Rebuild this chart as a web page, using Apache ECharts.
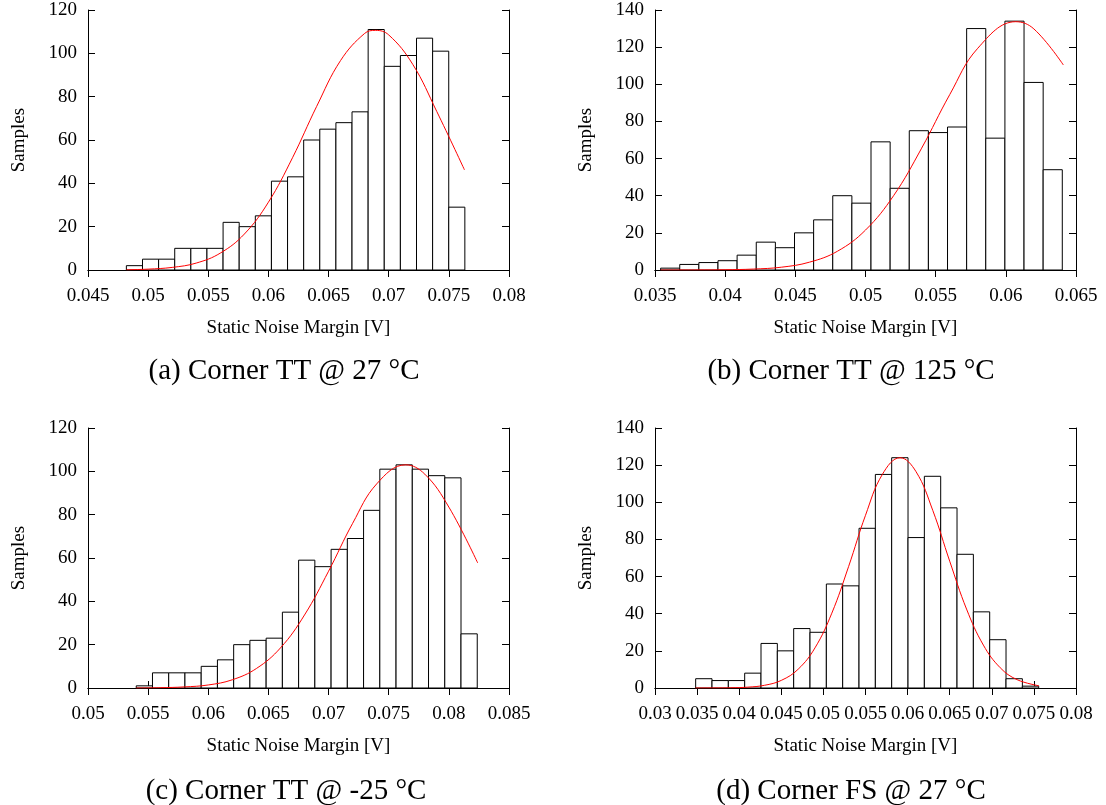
<!DOCTYPE html>
<html>
<head>
<meta charset="utf-8">
<script src="https://cdn.jsdelivr.net/npm/echarts@6/dist/echarts.min.js"></script>
<style>html,body{margin:0;padding:0;background:#fff}#c{width:1106px;height:805px}</style>
</head>
<body>
<div id="c"></div>
<script>
// ---------------- data ----------------
// Histogram counts (21 bins per panel)
const countsA = [2,5,5,10,10,10,22,20,25,41,43,60,65,68,73,111,94,99,107,101,29];
const countsB = [1,3,4,5,8,15,12,20,27,40,36,69,44,75,74,77,130,71,134,101,54];
const countsC = [1,7,7,7,10,13,20,22,23,35,59,56,64,69,82,101,103,101,98,97,25];
const countsD = [5,4,4,8,24,20,32,30,56,55,86,115,124,81,114,97,72,41,26,5,1];
// first bin edge and bin width [V]
const binA = {start: 0.04819, width: 0.00134};
const binB = {start: 0.03540, width: 0.001363};
const binC = {start: 0.05401, width: 0.00135};
const binD = {start: 0.03483, width: 0.00194};
// fitted normal curves [V, samples]
const fitA = [[0.0482,0.1],[0.050,0.4],[0.052,1.2],[0.054,3.2],[0.056,7.8],[0.058,16.6],[0.060,31.3],[0.062,51.8],[0.064,75.4],[0.066,96.7],[0.068,109.2],[0.0689,110.6],[0.070,108.5],[0.072,94.9],[0.074,73.1],[0.0763,46.2]];
const fitB = [[0.0354,0.0],[0.038,0.03],[0.040,0.14],[0.042,0.5],[0.044,1.5],[0.046,4.2],[0.048,10.1],[0.050,21.5],[0.052,40.0],[0.054,65.6],[0.056,94.4],[0.058,119.4],[0.0607,133.7],[0.062,129.8],[0.0641,110.4]];
const fitC = [[0.054,0.0],[0.056,0.14],[0.058,0.5],[0.060,1.4],[0.062,3.8],[0.064,9.0],[0.066,18.5],[0.068,33.7],[0.070,53.9],[0.072,76.0],[0.074,94.2],[0.0764,103],[0.078,98.7],[0.080,83.5],[0.0824,57.7]];
const fitD = [[0.0348,0.0],[0.037,0.03],[0.039,0.12],[0.041,0.45],[0.043,1.45],[0.045,4.1],[0.047,10.1],[0.049,21.6],[0.051,40.3],[0.053,65.5],[0.055,93.0],[0.057,115.0],[0.0591,124],[0.061,116.5],[0.063,95.5],[0.065,68.3],[0.067,42.5],[0.069,23.1],[0.071,10.9],[0.073,4.5],[0.0756,1.2]];
// axis ranges
const xRanges = [[0.045,0.08],[0.035,0.065],[0.05,0.085],[0.03,0.08]];
const yMaxes = [120,140,120,140];
const xStep = 0.005, yStep = 20;
const captions = ['(a) Corner TT @ 27 °C','(b) Corner TT @ 125 °C','(c) Corner TT @ -25 °C','(d) Corner FS @ 27 °C'];
const xName = 'Static Noise Margin [V]';
const yName = 'Samples';

// ---------------- layout ----------------
const FONT = 'Liberation Serif';
const grids = [
  {left: 88, top: 10, width: 421, height: 260},
  {left: 655, top: 10, width: 421, height: 260},
  {left: 88, top: 428, width: 421, height: 260},
  {left: 655, top: 428, width: 421, height: 260}
];
const captionPos = [[284,371],[851,371],[286,791],[851,791]];

function toBars(counts, bin) {
  return counts.map((c, i) => [bin.start + i*bin.width, bin.start + (i+1)*bin.width, c]);
}
const barData = [toBars(countsA,binA), toBars(countsB,binB), toBars(countsC,binC), toBars(countsD,binD)];
const fits = [fitA, fitB, fitC, fitD];

const axisLine = {show: true, lineStyle: {color: '#000', width: 1}};
const tick = {show: true, inside: true, length: 7, lineStyle: {color: '#000', width: 1}};
const fmtX = v => String(parseFloat(v.toFixed(4)));

const xAxis = [], yAxis = [], series = [], graphic = [];
grids.forEach((g, i) => {
  const [mn, mx] = xRanges[i];
  xAxis.push({
    type: 'value', gridIndex: i, min: mn, max: mx, interval: xStep, position: 'bottom',
    axisLine, axisTick: tick, splitLine: {show: false},
    axisLabel: {show: true, margin: 17, color: '#000', fontFamily: FONT, fontSize: 19, formatter: fmtX, hideOverlap: false, showMinLabel: true, showMaxLabel: true},
    name: xName, nameLocation: 'middle', nameGap: 49,
    nameTextStyle: {color: '#000', fontFamily: FONT, fontSize: 19}
  });
  xAxis.push({
    type: 'value', gridIndex: i, min: mn, max: mx, interval: xStep, position: 'top',
    axisLine, axisTick: tick, splitLine: {show: false}, axisLabel: {show: false}
  });
  yAxis.push({
    type: 'value', gridIndex: i, min: 0, max: yMaxes[i], interval: yStep, position: 'left',
    axisLine, axisTick: tick, splitLine: {show: false},
    axisLabel: {show: true, margin: 11, color: '#000', fontFamily: FONT, fontSize: 19},
    name: yName, nameLocation: 'middle', nameGap: 59, nameRotate: 90,
    nameTextStyle: {color: '#000', fontFamily: FONT, fontSize: 19}
  });
  yAxis.push({
    type: 'value', gridIndex: i, min: 0, max: yMaxes[i], interval: yStep, position: 'right',
    axisLine, axisTick: tick, splitLine: {show: false}, axisLabel: {show: false}
  });
  series.push({
    type: 'custom', xAxisIndex: 2*i, yAxisIndex: 2*i, z: 2,
    data: barData[i], encode: {x: [0,1], y: 2},
    renderItem: function (params, api) {
      const p0 = api.coord([api.value(0), 0]);
      const p1 = api.coord([api.value(1), api.value(2)]);
      return {
        type: 'rect',
        shape: {x: p0[0], y: p1[1], width: p1[0]-p0[0], height: p0[1]-p1[1]},
        style: {fill: '#fff', stroke: '#000', lineWidth: 1}
      };
    }
  });
  series.push({
    type: 'line', xAxisIndex: 2*i, yAxisIndex: 2*i, z: 3,
    data: fits[i], smooth: 0.4, symbol: 'none',
    lineStyle: {color: '#ff0000', width: 1}
  });
  graphic.push({
    type: 'text', x: captionPos[i][0], y: captionPos[i][1],
    style: {text: captions[i], fill: '#000', font: '29px "' + FONT + '"', textAlign: 'center', textVerticalAlign: 'middle'}
  });
});

const chart = echarts.init(document.getElementById('c'), null, {renderer: 'canvas'});
chart.setOption({
  animation: false,
  backgroundColor: '#fff',
  grid: grids,
  xAxis, yAxis, series, graphic
});
</script>
</body>
</html>
